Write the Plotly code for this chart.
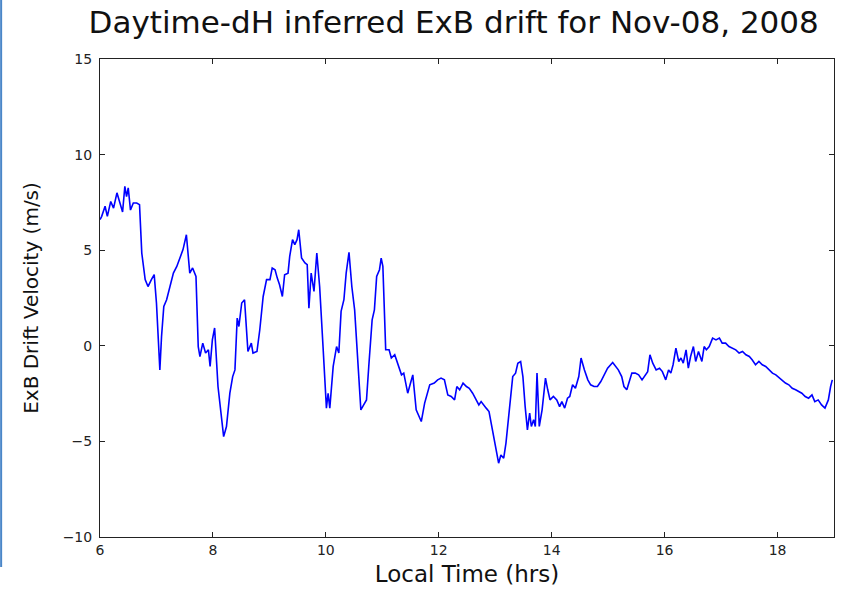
import plotly.graph_objects as go

local_time_hrs = [
    6.00, 6.03, 6.09, 6.13, 6.19, 6.24, 6.30, 6.35, 6.40, 6.44, 6.47, 6.50, 6.54, 6.59, 6.65, 6.70,
    6.74, 6.80, 6.85, 6.91, 6.96, 7.00, 7.06, 7.09, 7.13, 7.18, 7.24, 7.30, 7.36, 7.41, 7.47, 7.53,
    7.59, 7.64, 7.70, 7.74, 7.77, 7.82, 7.87, 7.92, 7.95, 7.99, 8.03, 8.09, 8.19, 8.24, 8.30, 8.35,
    8.39, 8.43, 8.46, 8.51, 8.56, 8.62, 8.68, 8.71, 8.78, 8.83, 8.89, 8.95, 9.01, 9.05, 9.10, 9.14,
    9.18, 9.23, 9.27, 9.33, 9.36, 9.41, 9.45, 9.49, 9.52, 9.57, 9.63, 9.67, 9.70, 9.74, 9.79, 9.84,
    9.89, 9.95, 10.01, 10.04, 10.07, 10.13, 10.19, 10.23, 10.27, 10.32, 10.36, 10.41, 10.46, 10.51,
    10.57, 10.62, 10.67, 10.72, 10.76, 10.82, 10.86, 10.90, 10.95, 10.98, 11.01, 11.06, 11.12, 11.16,
    11.22, 11.28, 11.34, 11.38, 11.45, 11.50, 11.54, 11.60, 11.69, 11.75, 11.84, 11.92, 11.98, 12.04,
    12.10, 12.16, 12.22, 12.28, 12.32, 12.37, 12.43, 12.49, 12.54, 12.60, 12.66, 12.71, 12.75, 12.79,
    12.84, 12.89, 12.93, 12.99, 13.03, 13.06, 13.10, 13.15, 13.19, 13.25, 13.31, 13.36, 13.40, 13.45,
    13.49, 13.53, 13.57, 13.61, 13.64, 13.68, 13.71, 13.74, 13.78, 13.83, 13.89, 13.93, 13.97, 14.03,
    14.09, 14.14, 14.18, 14.23, 14.28, 14.32, 14.37, 14.42, 14.48, 14.52, 14.56, 14.58, 14.64, 14.69,
    14.75, 14.81, 14.87, 14.93, 14.99, 15.08, 15.13, 15.18, 15.24, 15.28, 15.33, 15.37, 15.42, 15.48,
    15.54, 15.60, 15.66, 15.70, 15.74, 15.79, 15.85, 15.91, 15.96, 16.02, 16.07, 16.11, 16.15, 16.20,
    16.25, 16.29, 16.33, 16.38, 16.42, 16.46, 16.51, 16.55, 16.60, 16.66, 16.70, 16.74, 16.79, 16.85,
    16.91, 16.97, 17.02, 17.08, 17.14, 17.20, 17.26, 17.32, 17.38, 17.44, 17.50, 17.55, 17.61, 17.67,
    17.73, 17.79, 17.85, 17.91, 17.97, 18.03, 18.08, 18.14, 18.20, 18.26, 18.32, 18.38, 18.43, 18.49,
    18.55, 18.61, 18.66, 18.72, 18.78, 18.84, 18.90, 18.94, 18.97,
]

drift_velocity_ms = [
    6.60, 6.77, 7.30, 6.77, 7.55, 7.20, 8.00, 7.55, 7.00, 8.34, 7.80, 8.26, 7.10, 7.47, 7.47, 7.38,
    4.85, 3.46, 3.10, 3.46, 3.72, 2.24, -1.26, 0.49, 2.06, 2.41, 3.10, 3.80, 4.15, 4.59, 5.03, 5.81,
    3.80, 4.07, 3.63, -0.04, -0.56, 0.14, -0.38, -0.21, -1.08, 0.31, 0.93, -2.13, -4.75, -4.22, -2.48, -1.61,
    -1.26, 1.45, 1.01, 2.24, 2.41, -0.30, 0.14, -0.38, -0.30, 0.84, 2.58, 3.46, 3.46, 4.07, 3.98, 3.54,
    3.19, 2.58, 3.72, 3.80, 4.68, 5.55, 5.29, 5.55, 6.07, 4.59, 4.33, 4.24, 1.97, 3.80, 2.84, 4.85,
    3.10, -0.04, -3.26, -2.48, -3.26, -1.08, -0.04, -0.38, 1.80, 2.41, 3.80, 4.89, 3.10, 1.88,
    -1.08, -3.35, -3.09, -2.83, -1.08, 1.36, 1.88, 3.63, 3.98, 4.59, 4.15, -0.21, -0.21, -0.64,
    -0.47, -0.99, -1.52, -1.43, -2.48, -1.95, -1.52, -3.35, -3.96, -3.00, -2.04, -1.95, -1.78, -1.69,
    -1.78, -2.57, -2.65, -2.83, -2.13, -2.30, -1.95, -2.13, -2.22, -2.48, -2.83, -3.09, -2.92, -3.09,
    -3.26, -3.44, -4.05, -4.92, -5.62, -6.14, -5.71, -5.88, -5.09, -3.35, -1.61, -1.43, -0.91, -0.82,
    -1.61, -3.18, -4.40, -3.52, -4.22, -3.87, -4.22, -1.43, -4.22, -3.35, -1.69, -2.30, -2.83, -2.65,
    -2.83, -3.18, -2.92, -3.26, -2.74, -2.65, -2.04, -2.22, -1.61, -0.64, -1.08, -1.26, -1.78, -2.04,
    -2.13, -2.13, -1.87, -1.52, -1.17, -0.87, -1.08, -1.26, -1.61, -2.13, -2.30, -1.87, -1.43, -1.43,
    -1.52, -1.78, -1.52, -1.35, -0.47, -0.91, -1.26, -1.17, -1.35, -1.78, -1.26, -1.43, -0.99, -0.12,
    -0.82, -0.64, -0.91, -0.21, -1.17, -0.56, -0.04, -0.82, -0.30, -0.82, -0.04, -0.21, -0.04, 0.40,
    0.31, 0.40, 0.14, 0.14, -0.04, -0.12, -0.21, -0.38, -0.30, -0.47, -0.56, -0.73, -0.99, -0.82,
    -0.99, -1.08, -1.26, -1.43, -1.52, -1.69, -1.78, -1.95, -2.04, -2.22, -2.30, -2.39, -2.48, -2.65,
    -2.74, -2.57, -2.92, -2.83, -3.09, -3.26, -2.83, -2.13, -1.78,
]

x_ticks = [6, 8, 10, 12, 14, 16, 18]
y_ticks = [-10, -5, 0, 5, 10, 15]

fig = go.Figure()
fig.add_trace(go.Scatter(
    x=local_time_hrs, y=drift_velocity_ms, mode="lines",
    line=dict(color="#0000ff", width=1.6), showlegend=False,
))

axis_common = dict(
    showgrid=False, zeroline=False, showline=True, linecolor="#222222", linewidth=1,
    mirror="ticks", ticks="inside", ticklen=5, tickcolor="#222222", automargin=False,
    tickfont=dict(family="DejaVu Sans", size=14, color="#222222"),
)

fig.update_layout(
    width=848, height=589,
    margin=dict(l=100, r=14, t=59, b=52),
    paper_bgcolor="white", plot_bgcolor="white",
    title=dict(text="Daytime-dH inferred ExB drift for Nov-08, 2008",
               font=dict(family="DejaVu Sans", size=31, color="#111111"),
               x=0.535, xanchor="center", y=0.962, yanchor="middle"),
    xaxis=dict(range=[6, 19], tickvals=x_ticks, ticktext=[str(v) for v in x_ticks],
               title=dict(text="Local Time (hrs)", standoff=9,
                          font=dict(family="DejaVu Sans", size=23, color="#111111")),
               **axis_common),
    yaxis=dict(range=[-10, 15], tickvals=y_ticks,
               ticktext=["\u221210", "\u22125", "0", "5", "10", "15"],
               ticklabelstandoff=4,
               title=dict(text="ExB Drift Velocity (m/s)", standoff=18,
                          font=dict(family="DejaVu Sans", size=20, color="#111111")),
               **axis_common),
    shapes=[dict(type="line", xref="paper", yref="paper",
                 x0=-0.1347, x1=-0.1347, y0=1.1234, y1=-0.0628,
                 line=dict(color="#4a86c8", width=2))],
)

fig.write_html("out.html", config={"displayModeBar": False},
               post_script="document.body.style.margin='0px';document.body.style.padding='0px';")
